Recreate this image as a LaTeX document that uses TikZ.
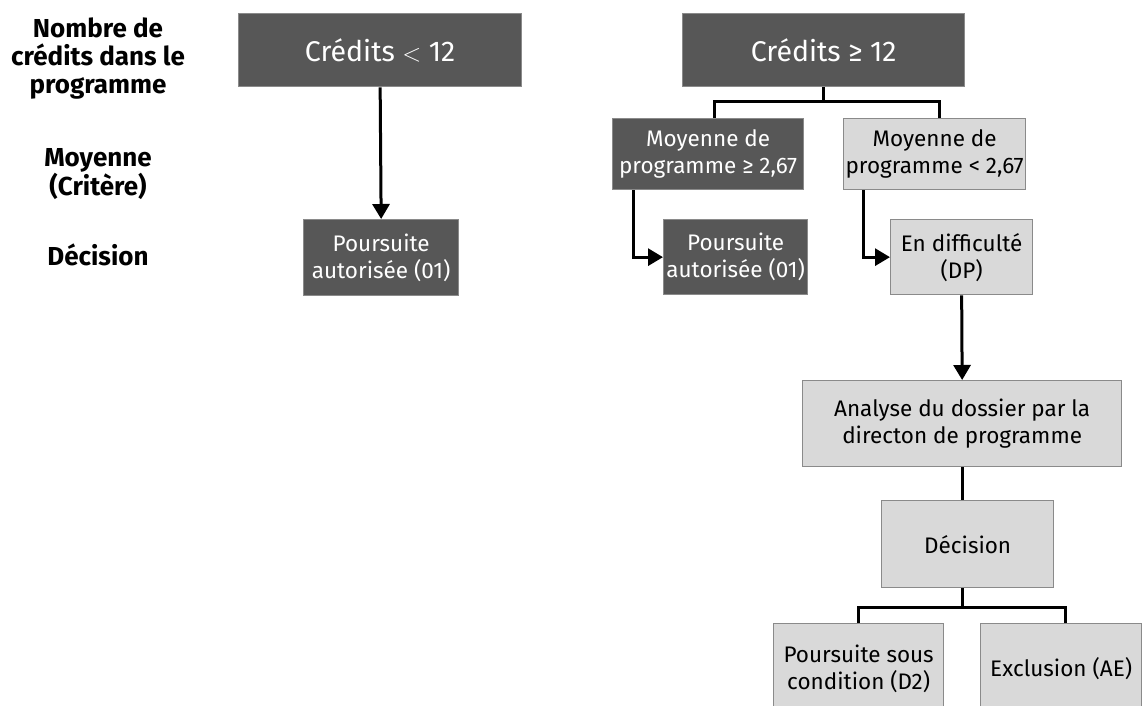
\documentclass[tikz,border=0pt]{standalone}
\usepackage{fontspec}
\setmainfont{Fira Sans}
\usetikzlibrary{arrows.meta,calc}
\definecolor{darkbox}{HTML}{575757}
\definecolor{lightbox}{HTML}{D9D9D9}
\definecolor{boxline}{HTML}{8A8A8A}
\begin{document}
\begin{tikzpicture}[x=1pt,y=-1pt,
  base/.style={draw=boxline,line width=1.3pt,inner sep=0pt,anchor=north west,align=center},
  darkb/.style={base,fill=darkbox,text=white},
  lightb/.style={base,fill=lightbox,text=black},
  boxfont/.style={font=\fontsize{22.5}{27}\selectfont},
  titlefont/.style={font=\fontsize{28.5}{32}\selectfont},
  lab/.style={align=center,font=\bfseries\fontsize{26}{28}\selectfont},
  conn/.style={line width=3pt,black},
  arr/.style={conn,-{Triangle[length=15pt,width=17pt]}},
]
\useasboundingbox (0,0) rectangle (1142,705);
\clip (0,0) rectangle (1142,705);
\fill[white] (0,0) rectangle (1142,705);

% left labels
\node[lab] (l1) at (98,59) {Nombre de\\crédits dans le\\programme};
\node[lab] (l2) at (98,174) {Moyenne\\(Critère)};
\node[lab] (l3) at (98,255) {Décision};

% boxes
\node[darkb,titlefont,minimum width=283pt,minimum height=73pt] (c1) at (238,13) {Crédits $<$ 12};
\node[darkb,boxfont,minimum width=155pt,minimum height=76pt] (p1) at (303,219) {Poursuite\\autorisée (01)};

\node[darkb,titlefont,minimum width=282pt,minimum height=73pt] (c2) at (682,13) {Crédits ≥ 12};
\node[darkb,boxfont,minimum width=191pt,minimum height=71pt] (m1) at (612,118) {Moyenne de\\programme ≥ 2,67};
\node[lightb,boxfont,minimum width=182pt,minimum height=71pt] (m2) at (843,118) {Moyenne de\\programme < 2,67};
\node[darkb,boxfont,minimum width=144pt,minimum height=75pt] (p2) at (663,219) {Poursuite\\autorisée (01)};
\node[lightb,boxfont,minimum width=142pt,minimum height=75pt] (d1) at (890,219) {En difficulté\\(DP)};
\node[lightb,boxfont,minimum width=319pt,minimum height=86pt] (an) at (802,380) {Analyse du dossier par la\\directon de programme};
\node[lightb,boxfont,minimum width=172pt,minimum height=87pt] (de) at (881,500) {Décision};
\node[lightb,boxfont,minimum width=170pt,minimum height=90pt] (ps) at (773,623) {Poursuite sous\\condition (D2)};
\node[lightb,boxfont,minimum width=161pt,minimum height=90pt] (ex) at (980,623) {Exclusion (AE)};

% connectors
\draw[arr] (c1.south) -- (p1.north);

\coordinate (t2) at ($(c2.south)+(0,14)$);
\draw[conn] (c2.south) -- (t2);
\draw[conn] ($(m1.north)+(6,0)$) |- (t2) -| ($(m2.north)+(5,0)$);

\draw[arr] ($(m1.south west)+(21,0)$) |- (p2.west);
\draw[arr] ($(m2.south west)+(20,0)$) |- (d1.west);
\draw[arr] (d1.south) -- (an.north);
\draw[conn] (an.south) -- (an.south |- de.north);
\coordinate (t3) at ($(an.south |- de.south)+(0,19)$);
\draw[conn] (an.south |- de.south) -- (t3);
\draw[conn] (ps.north) |- (t3) -| ($(ex.north)+(4,0)$);
\end{tikzpicture}
\end{document}
